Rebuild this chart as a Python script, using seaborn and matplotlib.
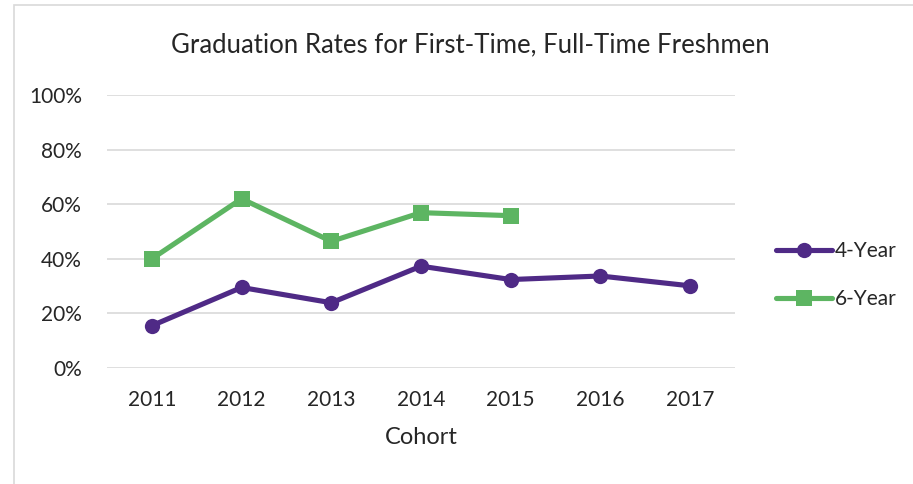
import pandas as pd
import matplotlib.pyplot as plt
import seaborn as sns
from matplotlib.patches import Rectangle
from matplotlib.ticker import PercentFormatter

cohorts = ['2011', '2012', '2013', '2014', '2015', '2016', '2017']
four_year = [0.155, 0.295, 0.239, 0.373, 0.324, 0.337, 0.301]
six_year = [0.400, 0.620, 0.464, 0.569, 0.558, None, None]

df = pd.DataFrame({'Cohort': cohorts * 2,
                   'Rate': four_year + six_year,
                   'Series': ['4-Year'] * 7 + ['6-Year'] * 7})
df = df.dropna()

sns.set_style('white')
plt.rcParams['font.family'] = ['Lato', 'DejaVu Sans']

fig = plt.figure(figsize=(9.13, 4.84), dpi=100)
ax = fig.add_axes([107 / 913, 1 - 368 / 484, 628 / 913, 273 / 484])

palette = {'4-Year': '#4F2A86', '6-Year': '#5DB562'}
sns.lineplot(data=df, x='Cohort', y='Rate', hue='Series', style='Series',
             markers={'4-Year': 'o', '6-Year': 's'}, dashes=False,
             palette=palette, linewidth=3.7, markersize=11,
             markeredgewidth=0, ax=ax, sort=False)

ax.set_xlim(-0.5, 6.5)
ax.set_ylim(0, 1)
ax.set_yticks([0, 0.2, 0.4, 0.6, 0.8, 1.0])
ax.yaxis.set_major_formatter(PercentFormatter(1.0, decimals=0))
ax.grid(axis='y', color='#D9D9D9', linewidth=1.2)
ax.set_axisbelow(True)
for s in ax.spines.values():
    s.set_visible(False)
ax.tick_params(axis='both', length=0, labelsize=15, colors='#262626')
ax.tick_params(axis='x', pad=16)
ax.tick_params(axis='y', pad=18)
ax.set_ylabel('')
ax.set_xlabel('Cohort', fontsize=17, color='#262626', labelpad=12)
fig.text(470 / 913, 1 - 45 / 484, 'Graduation Rates for First-Time, Full-Time Freshmen',
         ha='center', va='center', fontsize=18.5, color='#262626')

leg = ax.legend(loc='center left', bbox_to_anchor=(1.035, 0.34), frameon=False,
                fontsize=15, handlelength=2.7, handletextpad=0.15, labelspacing=1.35)

fig.patches.append(Rectangle((14 / 913, -0.1), 1.1, 1 - 5 / 484 + 0.1,
                             transform=fig.transFigure, fill=False,
                             edgecolor='#D9D9D9', linewidth=1.2))

plt.savefig('out.png', dpi=100)
plt.close()
